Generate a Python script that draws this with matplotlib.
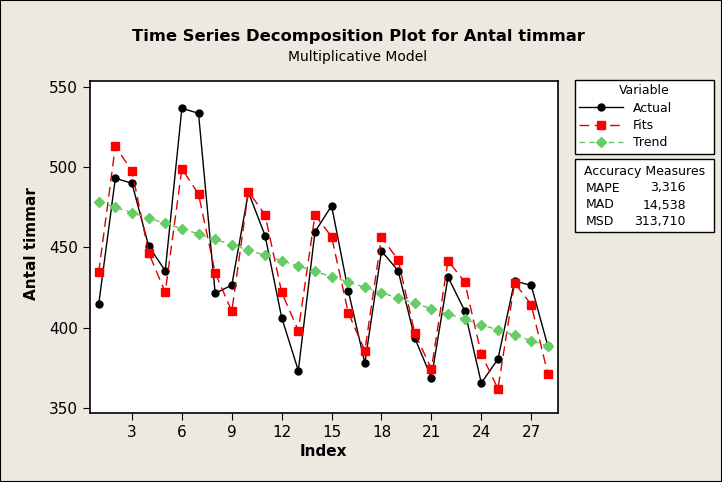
import numpy as np
import matplotlib.pyplot as plt
from matplotlib.patches import Rectangle

# data
index = np.arange(1, 29)
actual = [414.6, 493.1, 490.0, 451.0, 435.5, 536.7, 533.6, 421.5, 426.5, 484.4,
          457.4, 406.3, 373.3, 459.7, 476.0, 423.1, 378.0, 447.8, 435.5, 393.6,
          368.9, 431.6, 410.6, 365.6, 380.5, 429.1, 426.4, 388.6]
fits = [434.5, 513.0, 497.7, 446.8, 422.0, 499.0, 483.3, 434.3, 410.2, 484.8,
        470.4, 422.0, 398.2, 470.2, 456.7, 409.4, 385.7, 456.5, 442.2, 396.7,
        374.3, 441.8, 428.5, 383.6, 362.0, 428.0, 414.4, 371.2]
trend = [478.3, 475.0, 471.7, 468.3, 465.0, 461.7, 458.4, 455.1, 451.7, 448.4,
         445.1, 441.8, 438.5, 435.1, 431.8, 428.5, 425.2, 421.9, 418.5, 415.2,
         411.9, 408.6, 405.3, 401.9, 398.6, 395.3, 392.0, 388.6]
measures = ["MAPE", "MAD", "MSD"]
measure_vals = ["3,316", "14,538", "313,710"]

bg = '#EDE9E0'
W, H = 722, 482

fig = plt.figure(figsize=(W/100, H/100), dpi=100, facecolor=bg)
ax = fig.add_axes([90/W, 1 - 413/H, 468/W, 332/H])
ax.set_facecolor('white')

l1, = ax.plot(index, actual, color='black', lw=1, marker='o', ms=5, label='Actual')
l2, = ax.plot(index, fits, color='#DD0000', lw=1, ls=(0, (7, 4)), marker='s', ms=6,
              mfc='red', mec='red', label='Fits')
l3, = ax.plot(index, trend, color='#66C266', lw=1, ls=(0, (4, 3)), marker='D', ms=5.5,
              mfc='#66CC66', mec='#66CC66', label='Trend')

ax.set_xlim(0.477, 28.61)
ax.set_ylim(346.9, 553.7)
ax.set_xticks(range(3, 28, 3))
ax.set_yticks(range(350, 551, 50))
ax.tick_params(direction='out', length=5, labelsize=11, color='black')
for s in ax.spines.values():
    s.set_linewidth(1.2)

fig.text(358/W, 1 - 36/H, 'Time Series Decomposition Plot for Antal timmar',
         ha='center', va='center', fontsize=11.8, fontweight='bold')
fig.text(358/W, 1 - 57/H, 'Multiplicative Model', ha='center', va='center', fontsize=10)
fig.text(323/W, 1 - 451/H, 'Index', ha='center', va='center', fontsize=11, fontweight='bold')
fig.text(32/W, 1 - 244/H, 'Antal timmar', ha='center', va='center', rotation=90,
         fontsize=11, fontweight='bold')

leg = fig.legend(handles=[l1, l2, l3], title='Variable', loc='upper left',
                 bbox_to_anchor=(575/W, 1 - 155/H, 139/W, 75/H), mode='expand',
                 borderaxespad=0, fancybox=False, edgecolor='black', framealpha=1,
                 fontsize=9, title_fontsize=9, handlelength=3.5, borderpad=0.35,
                 labelspacing=0.35)
leg.get_frame().set_linewidth(1)

# accuracy measures box
fig.patches.append(Rectangle((575/W, 1 - 232/H), 139/W, 73/H, transform=fig.transFigure,
                             facecolor='white', edgecolor='black', lw=1))
fig.text(645/W, 1 - 171/H, 'Accuracy Measures', ha='center', va='center', fontsize=9)
for i, (m, v) in enumerate(zip(measures, measure_vals)):
    y = 1 - (188 + 17*i)/H
    fig.text(586/W, y, m, ha='left', va='center', fontsize=9)
    fig.text(686/W, y, v, ha='right', va='center', fontsize=9)

# outer border
fig.patches.append(Rectangle((0, 0), 1, 1, transform=fig.transFigure, fill=False,
                             edgecolor='black', lw=1.5))

fig.savefig('out.png', dpi=100, facecolor=bg)
